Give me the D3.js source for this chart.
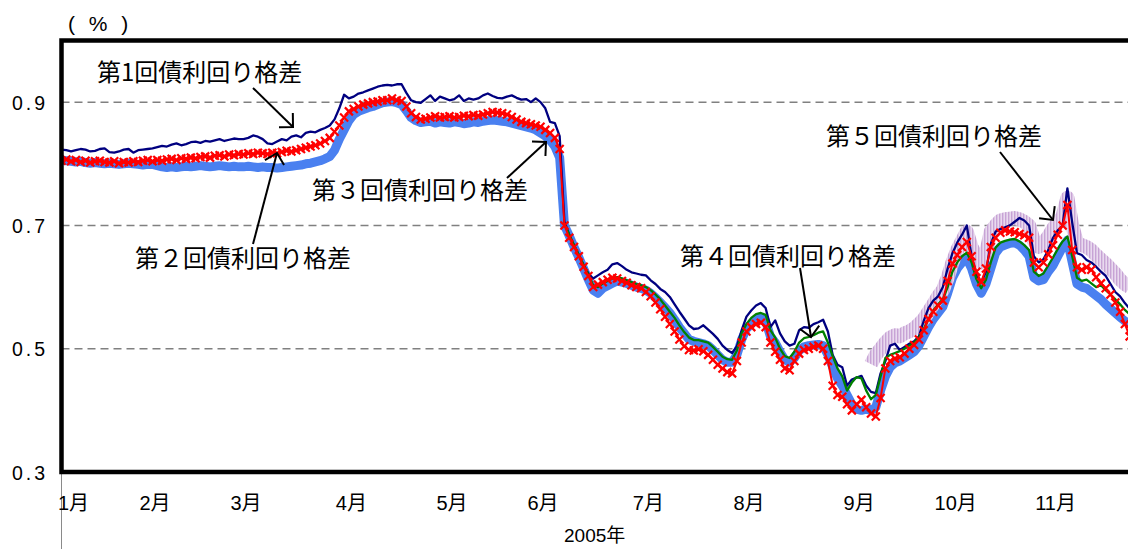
<!DOCTYPE html>
<html><head><meta charset="utf-8">
<script src="https://cdn.jsdelivr.net/npm/d3@7"></script>
<style>html,body{margin:0;padding:0;background:#fff;overflow:hidden}</style>
</head><body>
<script>
// ---- data (trading-day index from early Jan 2005) ----
const monthLabels = ["1月","2月","3月","4月","5月","6月","7月","8月","9月","10月","11月"];
const monthTickIdx = [0,17,36,58,79,98,120,141,164,183,204];
const yTicks = [0.3,0.5,0.7,0.9];
const gridValues = [0.5,0.7,0.9];
const yearLabel = "2005年";
const unitLabel = "( % )";

// 第1回債利回り格差 (navy)
const series1 = [
0.823,0.822,0.820,0.822,0.824,0.823,0.820,0.821,0.824,0.825,0.819,0.818,0.820,0.823,0.824,0.818,0.822,0.823,0.824,
0.825,0.827,0.829,0.828,0.831,0.833,0.830,0.832,0.835,0.836,0.834,0.837,0.836,0.838,0.840,0.837,0.839,0.841,0.840,
0.840,0.842,0.846,0.844,0.840,0.833,0.832,0.836,0.840,0.838,0.844,0.846,0.843,0.850,0.852,0.851,0.855,0.858,0.862,0.872,0.890,0.912,
0.906,0.909,0.914,0.916,0.919,0.922,0.925,0.927,0.928,0.927,0.929,0.929,0.915,0.903,0.900,0.899,0.905,0.911,0.902,0.909,
0.906,0.903,0.905,0.911,0.902,0.906,0.904,0.906,0.911,0.914,0.910,0.907,0.906,0.909,0.911,0.907,0.904,0.905,0.900,
0.906,0.900,0.890,0.868,0.866,0.845,0.706,0.685,0.668,0.652,0.636,0.622,0.614,0.619,0.624,0.628,0.637,0.639,0.634,0.628,0.624,0.622,
0.620,0.619,0.611,0.605,0.597,0.592,0.584,0.572,0.560,0.549,0.538,0.532,0.533,0.538,0.531,0.524,0.516,0.505,0.498,0.493,
0.504,0.530,0.552,0.562,0.570,0.574,0.566,0.535,0.546,0.525,0.512,0.505,0.508,0.530,0.535,0.534,0.540,0.543,0.547,0.528,0.490,0.474,0.470,
0.440,0.450,0.453,0.456,0.440,0.430,0.428,0.460,0.480,0.505,0.508,0.498,0.503,0.508,0.512,0.520,0.545,0.566,0.578,0.585,
0.600,0.630,0.655,0.672,0.685,0.700,0.650,0.620,0.608,0.625,0.670,0.690,0.694,0.697,0.700,0.706,0.712,0.708,0.700,0.650,
0.640,0.645,0.660,0.680,0.692,0.700,0.760,0.705,0.655,0.652,0.644,0.640,0.633,0.625,0.618,0.605,0.592,0.585,0.574,0.565
];
// 第2回債利回り格差 (red, x markers)
const series2 = [
0.805,0.807,0.804,0.806,0.803,0.805,0.802,0.804,0.805,0.803,0.802,0.804,0.801,0.803,0.802,0.804,0.803,0.805,0.806,
0.804,0.806,0.805,0.807,0.808,0.806,0.809,0.808,0.810,0.809,0.811,0.812,0.810,0.813,0.814,0.812,0.815,0.814,0.816,
0.815,0.817,0.816,0.818,0.817,0.816,0.818,0.817,0.819,0.821,0.820,0.822,0.824,0.826,0.828,0.830,0.833,0.837,0.842,0.852,0.862,0.875,
0.885,0.889,0.893,0.896,0.898,0.900,0.901,0.903,0.903,0.906,0.903,0.902,0.893,0.882,0.876,0.872,0.873,0.875,0.877,0.875,
0.876,0.877,0.875,0.876,0.878,0.877,0.879,0.878,0.880,0.882,0.884,0.883,0.882,0.880,0.876,0.872,0.868,0.866,0.864,
0.862,0.860,0.855,0.850,0.842,0.824,0.700,0.680,0.665,0.650,0.633,0.618,0.600,0.604,0.608,0.612,0.615,0.614,0.610,0.607,0.603,0.600,
0.598,0.592,0.585,0.575,0.564,0.552,0.540,0.528,0.515,0.504,0.498,0.497,0.499,0.496,0.490,0.482,0.474,0.468,0.462,0.460,
0.480,0.510,0.528,0.535,0.540,0.542,0.535,0.510,0.495,0.482,0.468,0.465,0.480,0.492,0.498,0.500,0.503,0.505,0.500,0.480,0.440,0.425,0.422,
0.410,0.400,0.410,0.417,0.405,0.395,0.390,0.420,0.468,0.480,0.484,0.486,0.492,0.500,0.506,0.515,0.530,0.548,0.560,0.570,
0.578,0.610,0.638,0.652,0.665,0.673,0.650,0.625,0.608,0.630,0.665,0.680,0.688,0.692,0.690,0.689,0.686,0.684,0.680,0.640,
0.632,0.640,0.653,0.668,0.685,0.700,0.733,0.660,0.632,0.628,0.632,0.628,0.616,0.606,0.598,0.588,0.575,0.560,0.540,0.520
];
// 第3回債利回り格差 (thick blue)
const series3 = [
0.806,0.805,0.804,0.803,0.804,0.802,0.801,0.802,0.801,0.800,0.801,0.800,0.799,0.800,0.801,0.800,0.799,0.798,0.799,
0.799,0.797,0.795,0.794,0.795,0.794,0.795,0.796,0.795,0.796,0.797,0.796,0.795,0.796,0.797,0.796,0.795,0.796,0.795,
0.795,0.796,0.795,0.794,0.795,0.794,0.794,0.793,0.794,0.795,0.796,0.797,0.798,0.800,0.801,0.803,0.805,0.808,0.812,0.822,0.840,0.855,
0.870,0.880,0.885,0.888,0.891,0.893,0.896,0.899,0.900,0.901,0.899,0.896,0.886,0.875,0.870,0.867,0.868,0.869,0.866,0.868,
0.867,0.866,0.868,0.867,0.865,0.866,0.868,0.867,0.869,0.870,0.871,0.870,0.869,0.868,0.866,0.864,0.862,0.860,0.858,
0.855,0.850,0.845,0.838,0.828,0.810,0.700,0.683,0.665,0.648,0.630,0.612,0.595,0.590,0.598,0.602,0.606,0.610,0.608,0.606,0.603,0.600,
0.598,0.595,0.590,0.583,0.575,0.567,0.558,0.547,0.535,0.525,0.515,0.512,0.510,0.508,0.505,0.498,0.490,0.482,0.478,0.478,
0.490,0.515,0.532,0.540,0.548,0.550,0.545,0.520,0.510,0.495,0.482,0.478,0.485,0.497,0.503,0.505,0.506,0.507,0.505,0.490,0.470,0.452,0.440,
0.425,0.410,0.402,0.400,0.402,0.400,0.405,0.432,0.455,0.470,0.477,0.480,0.485,0.490,0.495,0.505,0.520,0.535,0.548,0.558,
0.568,0.590,0.615,0.630,0.640,0.646,0.630,0.605,0.590,0.605,0.630,0.655,0.665,0.668,0.671,0.672,0.668,0.660,0.650,0.615,
0.610,0.612,0.625,0.635,0.650,0.665,0.676,0.640,0.605,0.600,0.598,0.592,0.586,0.580,0.572,0.565,0.558,0.551,0.545,0.540
];
// 第4回債利回り格差 (green), starts at index series4Start
const series4Start = 105;
const series4 = [
0.702,0.685,0.668,0.652,0.636,0.620,0.603,0.600,0.606,0.610,0.614,0.616,0.614,0.611,0.608,0.605,
0.603,0.600,0.595,0.588,0.580,0.570,0.560,0.550,0.538,0.527,0.518,0.514,0.514,0.512,0.510,0.503,0.495,0.487,0.483,0.482,
0.497,0.525,0.540,0.550,0.556,0.558,0.555,0.530,0.518,0.500,0.488,0.485,0.495,0.510,0.517,0.519,0.522,0.526,0.528,0.510,0.488,0.468,0.455,
0.432,0.445,0.454,0.452,0.432,0.418,0.425,0.455,0.485,0.490,0.493,0.496,0.500,0.505,0.510,0.518,0.532,0.548,0.562,0.572,
0.580,0.600,0.625,0.640,0.650,0.656,0.640,0.613,0.598,0.612,0.640,0.664,0.672,0.675,0.677,0.678,0.674,0.668,0.660,0.625,
0.618,0.622,0.635,0.648,0.662,0.674,0.682,0.650,0.615,0.610,0.612,0.606,0.600,0.603,0.595,0.588,0.580,0.572,0.563,0.556
];
// 第5回債利回り格差 (hatched lavender), starts at index series5Start
const series5Start = 169;
const series5 = [
0.475,0.490,0.500,0.510,0.518,0.522,0.520,0.525,0.528,0.533,0.540,0.548,0.560,0.572,0.585,
0.595,0.615,0.640,0.660,0.675,0.690,0.665,0.650,0.640,0.655,0.690,0.700,0.708,0.710,0.711,0.712,0.710,0.706,0.700,0.675,
0.665,0.672,0.682,0.695,0.705,0.715,0.745,0.700,0.672,0.668,0.665,0.660,0.652,0.645,0.638,0.630,0.622,0.612,0.605,0.600
];
const annotations = [
  {text:"第1回債利回り格差", tx:97, ty:81, from:[253,88], to:[293,127]},
  {text:"第２回債利回り格差", tx:135, ty:267, from:[253,244], to:[277,153]},
  {text:"第３回債利回り格差", tx:312, ty:199, from:[507,178], to:[546,142]},
  {text:"第４回債利回り格差", tx:680, ty:265, from:[800,268], to:[811,337]},
  {text:"第５回債利回り格差", tx:826, ty:145, from:[1000,152], to:[1053,220]}
];

// ---- drawing ----
const W = 1128, H = 549;
const pLeft = 61.5, pTop = 40.5, pBottom = 472;
const nDays = series1.length;
const x = d3.scaleLinear().domain([0, nDays - 1]).range([pLeft, pLeft + (nDays - 1) * 4.79]);
const y = d3.scaleLinear().domain([0.3, 1.0]).range([pBottom, pTop]);
const FONT = "'Liberation Sans', 'Noto Sans CJK JP', sans-serif";
const CJK = "'Noto Sans CJK JP', sans-serif";

const svg = d3.select("body").append("svg").attr("width", W).attr("height", H)
  .style("font-family", FONT);

const defs = svg.append("defs");
defs.append("clipPath").attr("id","plotclip").append("rect")
  .attr("x", pLeft).attr("y", pTop).attr("width", W - pLeft + 20).attr("height", pBottom - pTop);
const pat = defs.append("pattern").attr("id","hatch").attr("patternUnits","userSpaceOnUse")
  .attr("width",3).attr("height",8);
pat.append("rect").attr("width",3).attr("height",8).attr("fill","#E9DAEF");
pat.append("rect").attr("width",1.4).attr("height",8).attr("fill","#C7A3D5");

// grid
svg.append("g").selectAll("line").data(gridValues).join("line")
  .attr("x1", pLeft).attr("x2", W + 10)
  .attr("y1", d => y(d)).attr("y2", d => y(d))
  .attr("stroke", "#808080").attr("stroke-width", 1.5).attr("stroke-dasharray", "8,5");

// y axis labels
const yAxis = d3.axisLeft(y).tickValues(yTicks).tickSize(0).tickPadding(0)
  .tickFormat(d3.format(".1f"));
const yg = svg.append("g").attr("transform", `translate(48,1)`).call(yAxis);
yg.select(".domain").remove();
yg.selectAll("text").attr("font-size", 19.5).attr("font-family", FONT)
  .attr("letter-spacing", "3px").attr("fill", "#000");

// unit label
svg.append("text").attr("x", 68).attr("y", 31).attr("font-size", 21)
  .attr("letter-spacing", "4px").attr("xml:space", "preserve")
  .style("white-space", "pre").text(unitLabel);

// series
const plot = svg.append("g").attr("clip-path", "url(#plotclip)");
const line = (start) => d3.line().x((d, i) => x(i + start)).y(d => y(d));

plot.append("path").datum(series3).attr("d", line(0))
  .attr("fill","none").attr("stroke","#4A80F0").attr("stroke-width",9)
  .attr("stroke-linejoin","round").attr("stroke-linecap","round");
plot.append("path").datum(series5).attr("d", line(series5Start))
  .attr("fill","none").attr("stroke","url(#hatch)").attr("stroke-width",14)
  .attr("stroke-linejoin","round");
plot.append("path").datum(series1).attr("d", line(0))
  .attr("fill","none").attr("stroke","#000080").attr("stroke-width",2.3)
  .attr("stroke-linejoin","round");
plot.append("path").datum(series4).attr("d", line(series4Start))
  .attr("fill","none").attr("stroke","#008000").attr("stroke-width",2.3)
  .attr("stroke-linejoin","round");
plot.append("path").datum(series2).attr("d", line(0))
  .attr("fill","none").attr("stroke","#FF0000").attr("stroke-width",2)
  .attr("stroke-linejoin","round");
plot.append("g").selectAll("path").data(series2).join("path")
  .attr("transform", (d, i) => `translate(${x(i)},${y(d)})`)
  .attr("d", "M-4,-4L4,4M-4,4L4,-4")
  .attr("stroke", "#FF0000").attr("stroke-width", 2.2).attr("fill", "none");

// frame
svg.append("line").attr("x1", pLeft).attr("x2", pLeft).attr("y1", pBottom).attr("y2", H)
  .attr("stroke", "#8a8a8a").attr("stroke-width", 1);
svg.append("path")
  .attr("d", `M${W + 10},${pTop}H${pLeft}V${pBottom}H${W + 10}`)
  .attr("fill", "none").attr("stroke", "#000").attr("stroke-width", 4.5)
  .attr("stroke-linejoin", "miter");

// month labels
svg.append("g").selectAll("text").data(monthLabels).join("text")
  .attr("x", (d, i) => x(monthTickIdx[i]) - 3.5).attr("y", 510)
  .attr("font-size", 20).attr("fill", "#000").text(d => d);

svg.append("text").attr("x", 564).attr("y", 542).attr("font-size", 19)
  .attr("fill", "#000").text(yearLabel);

// annotations
const ann = svg.append("g");
annotations.forEach(a => {
  ann.append("text").attr("x", a.tx).attr("y", a.ty).attr("font-size", 24)
    .attr("font-family", CJK).attr("fill", "#000").text(a.text);
  ann.append("line").attr("x1", a.from[0]).attr("y1", a.from[1])
    .attr("x2", a.to[0]).attr("y2", a.to[1]).attr("stroke", "#000").attr("stroke-width", 2);
  const ang = Math.atan2(a.to[1] - a.from[1], a.to[0] - a.from[0]);
  const L = 14;
  const p1 = [a.to[0] - L * Math.cos(ang - Math.PI / 4), a.to[1] - L * Math.sin(ang - Math.PI / 4)];
  const p2 = [a.to[0] - L * Math.cos(ang + Math.PI / 4), a.to[1] - L * Math.sin(ang + Math.PI / 4)];
  ann.append("path").attr("d", `M${p1[0]},${p1[1]}L${a.to[0]},${a.to[1]}L${p2[0]},${p2[1]}`)
    .attr("fill", "none").attr("stroke", "#000").attr("stroke-width", 2);
});
</script>
</body></html>
